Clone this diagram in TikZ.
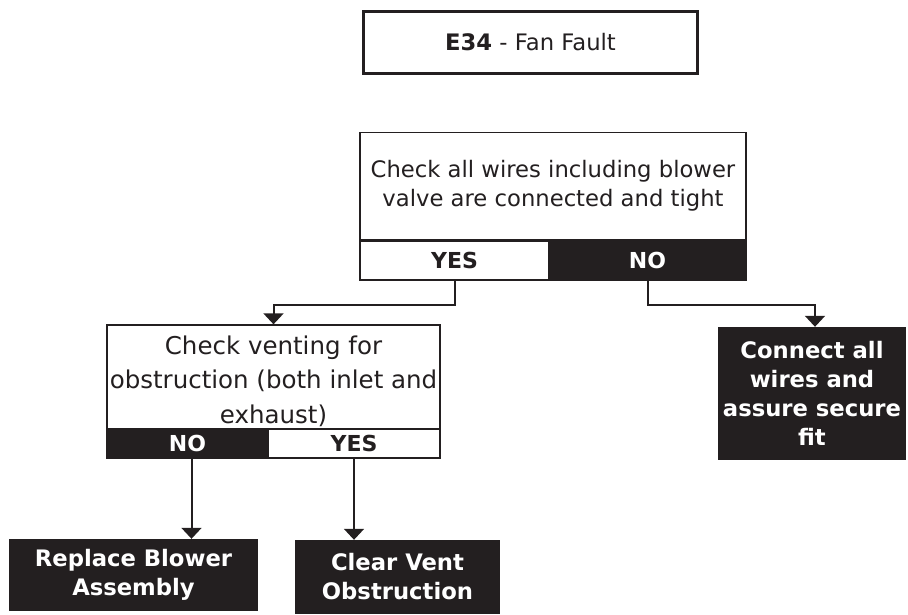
\documentclass[tikz,border=0pt]{standalone}
\usepackage{fontspec}
\setmainfont{DejaVu Sans}
\usepackage{tikz}
\usetikzlibrary{positioning, arrows.meta}

\definecolor{inkdark}{RGB}{35,31,32}

\tikzset{
    qbox/.style={draw=inkdark, line width=1.3pt, fill=white, text=inkdark,
        rectangle, align=center, inner sep=0pt},
    ansyes/.style={draw=inkdark, line width=1.3pt, fill=white, text=inkdark,
        rectangle, inner sep=0pt, font=\bfseries\fontsize{22}{26}\selectfont},
    ansno/.style={draw=inkdark, line width=1.3pt, fill=inkdark, text=white,
        rectangle, inner sep=0pt, font=\bfseries\fontsize{22}{26}\selectfont},
    actbox/.style={fill=inkdark, text=white, rectangle, align=center,
        inner sep=0pt, font=\bfseries\fontsize{22.7}{29}\selectfont},
    flowline/.style={draw=inkdark, line width=2pt,
        -{Triangle[width=20pt, length=11pt]}}
}

\begin{document}
\begin{tikzpicture}[x=1pt, y=1pt]
    \useasboundingbox (0,0) rectangle (908,-615);

    % title
    \node[
        draw=inkdark,
        line width=3pt,
        rectangle,
        minimum width=334pt,
        minimum height=62pt,
        text=inkdark,
        font=\fontsize{22.7}{29}\selectfont
    ] (title) at (530.5,-42.5) {\textbf{E34} - Fan Fault};

    % first check
    \node[qbox, minimum width=386pt, minimum height=107pt,
        font=\fontsize{22.7}{29}\selectfont]
        (wires) at (553,-186) {Check all wires including blower\\valve are connected and tight};
    \node[ansyes, minimum width=189pt, minimum height=39pt] (wiresyes) at (454.5,-260.5) {YES};
    \node[ansno, minimum width=197pt, minimum height=39pt] (wiresno) at (647.5,-260.5) {NO};

    % second check
    \node[qbox, minimum width=333pt, minimum height=104pt] (vent) at (273.5,-377) {};
    \node[text=inkdark, align=center, inner sep=0pt,
        font=\fontsize{24.5}{34.5}\selectfont]
        (venttext) at ([yshift=-4pt]vent.center) {Check venting for\\obstruction (both inlet and\\exhaust)};
    \node[ansno, minimum width=161pt, minimum height=29pt] (ventno) at (187.5,-443.5) {NO};
    \node[ansyes, minimum width=172pt, minimum height=29pt] (ventyes) at (354,-443.5) {YES};

    % actions
    \node[actbox, minimum width=188pt, minimum height=133pt] (connect) at (812,-393.5)
        {Connect all\\wires and\\assure secure\\fit};
    \node[actbox, minimum width=249pt, minimum height=72pt] (replace) at (133.5,-575)
        {Replace Blower\\Assembly};
    \node[actbox, minimum width=205pt, minimum height=74pt] (clear) at (397.5,-577)
        {Clear Vent\\Obstruction};

    % connectors
    \draw[flowline] (wiresyes.south) -- ++(0,-24) -| (vent.north);
    \draw[flowline] (wiresno.south) -- ++(0,-24) -| ([xshift=3pt]connect.north);
    \draw[flowline] ([xshift=4pt]ventno.south) -- ([xshift=4pt]ventno.south |- replace.north);
    \draw[flowline] (ventyes.south) -- (ventyes.south |- clear.north);
\end{tikzpicture}
\end{document}
